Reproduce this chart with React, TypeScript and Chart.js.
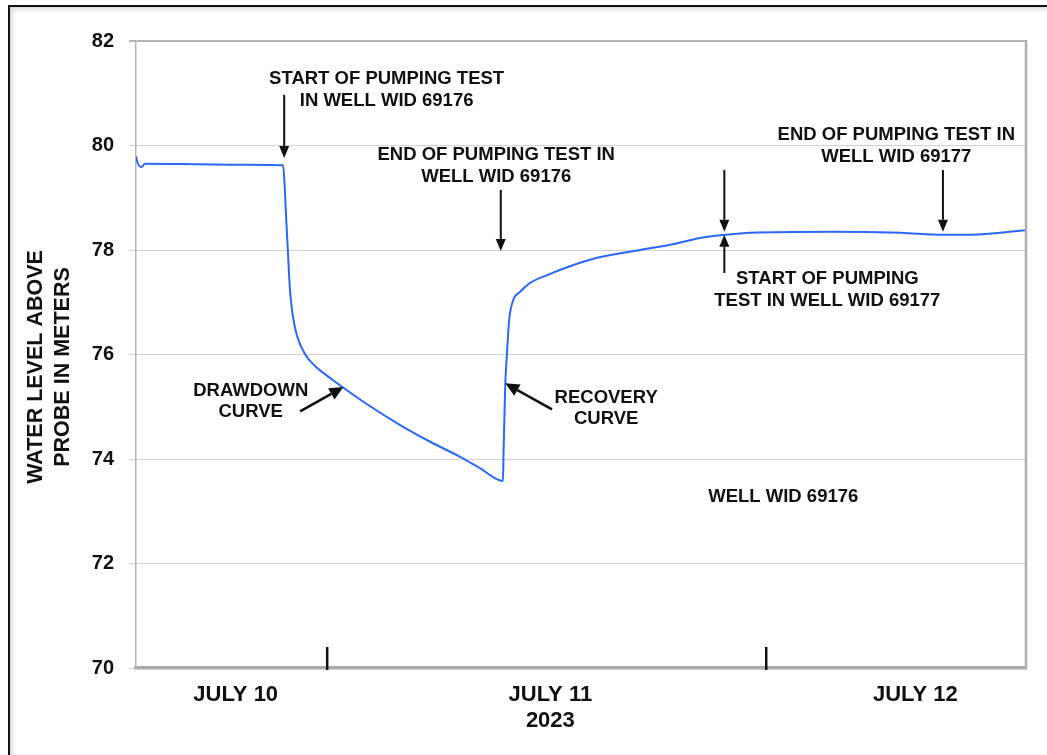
import React, { useEffect, useRef } from "react";
import { Chart, registerables } from "chart.js";

Chart.register(...registerables);

// hours since 00:00 on July 10, 2023
const timeHours = [
  13.56, 13.6, 13.84, 14.05, 17.06, 19.79, 21.59,
  21.68, 21.76, 21.85, 21.92, 22.0, 22.14, 22.36, 22.8, 23.34, 24.16, 24.98,
  26.35, 27.99, 29.63, 31.27, 32.37, 33.61,
  33.64, 33.73, 33.83, 33.95, 34.17, 34.55, 35.1, 36.03, 37.12, 38.76,
  41.11, 42.75, 44.39, 45.76, 47.13, 51.67, 55.33, 57.68, 58.99, 60.8, 62.2,
];
const waterLevel = [
  79.79, 79.71, 79.59, 79.65, 79.64, 79.63, 79.62,
  79.2, 78.6, 78.0, 77.5, 77.1, 76.7, 76.35, 76.0, 75.78, 75.55, 75.34,
  75.01, 74.65, 74.33, 74.04, 73.82, 73.58,
  74.11, 75.38, 76.03, 76.66, 77.04, 77.2, 77.37, 77.52, 77.67, 77.85,
  78.0, 78.1, 78.23, 78.29, 78.33, 78.35, 78.33, 78.29, 78.29, 78.33, 78.38,
];

const yMin = 70;
const yMax = 82;
const yStep = 2;
const xMin = 13.55;
const xMax = 62.2;

const dayBoundaryHours = [24, 48];
const dayLabelHours = [19.0, 36.2, 56.15];
const dayLabels = [["JULY 10"], ["JULY 11", "2023"], ["JULY 12"]];
const yTitleLines = ["WATER LEVEL ABOVE", "PROBE IN METERS"];

// annotation texts: centre of the block in data units
const noteX = [27.25, 33.24, 55.11, 51.34, 19.82, 39.25, 48.93];
const noteY = [81.08, 79.63, 80.01, 77.25, 75.12, 74.99, 73.29];
const noteLines = [
  ["START OF PUMPING TEST", "IN WELL WID 69176"],
  ["END OF PUMPING TEST IN", "WELL WID 69176"],
  ["END OF PUMPING TEST IN", "WELL WID 69177"],
  ["START OF PUMPING", "TEST IN WELL WID 69177"],
  ["DRAWDOWN", "CURVE"],
  ["RECOVERY", "CURVE"],
  ["WELL WID 69176"],
];

// arrows: tail -> tip in data units
const arrowFromX = [21.65, 33.49, 45.71, 45.71, 57.66, 22.52, 36.29];
const arrowFromY = [80.97, 79.15, 79.53, 77.56, 79.53, 74.91, 74.95];
const arrowToX = [21.65, 33.49, 45.71, 45.71, 57.66, 24.89, 33.73];
const arrowToY = [79.76, 77.98, 78.35, 78.29, 78.35, 75.38, 75.45];

const FONT = "'Liberation Sans', Arial, Helvetica, sans-serif";

const overlayPlugin = {
  id: "overlay",
  afterDraw(chart: any) {
    const { ctx, chartArea, scales } = chart;
    const xs = scales.x;
    const ys = scales.y;
    ctx.save();

    // right border of the plot area
    ctx.strokeStyle = "#b0b0b0";
    ctx.lineWidth = 2.5;
    ctx.beginPath();
    ctx.moveTo(chartArea.right, chartArea.top - 1);
    ctx.lineTo(chartArea.right, chartArea.bottom + 1.5);
    ctx.stroke();

    // day boundary ticks
    ctx.strokeStyle = "#111";
    ctx.lineWidth = 2.5;
    dayBoundaryHours.forEach((h) => {
      const px = xs.getPixelForValue(h);
      ctx.beginPath();
      ctx.moveTo(px, chartArea.bottom - 21);
      ctx.lineTo(px, chartArea.bottom + 2);
      ctx.stroke();
    });

    // arrows
    arrowFromX.forEach((_, i) => {
      const x1 = xs.getPixelForValue(arrowFromX[i]);
      const y1 = ys.getPixelForValue(arrowFromY[i]);
      const x2 = xs.getPixelForValue(arrowToX[i]);
      const y2 = ys.getPixelForValue(arrowToY[i]);
      const ang = Math.atan2(y2 - y1, x2 - x1);
      const diag = Math.abs(x2 - x1) > 1;
      const hl = diag ? 14 : 12;
      const hw = diag ? 6.5 : 5;
      const bx = x2 - hl * Math.cos(ang);
      const by = y2 - hl * Math.sin(ang);
      ctx.strokeStyle = "#111";
      ctx.fillStyle = "#111";
      ctx.lineWidth = diag ? 2.5 : 2;
      ctx.beginPath();
      ctx.moveTo(x1, y1);
      ctx.lineTo(bx, by);
      ctx.stroke();
      ctx.beginPath();
      ctx.moveTo(x2, y2);
      ctx.lineTo(bx + hw * Math.sin(ang), by - hw * Math.cos(ang));
      ctx.lineTo(bx - hw * Math.sin(ang), by + hw * Math.cos(ang));
      ctx.closePath();
      ctx.fill();
    });

    // annotation texts
    ctx.fillStyle = "#111";
    ctx.font = `bold 18.5px ${FONT}`;
    ctx.textAlign = "center";
    ctx.textBaseline = "middle";
    const lh = 21.7;
    noteLines.forEach((lines, i) => {
      const cx = xs.getPixelForValue(noteX[i]);
      const cy = ys.getPixelForValue(noteY[i]);
      const y0 = cy - ((lines.length - 1) * lh) / 2;
      lines.forEach((t, j) => ctx.fillText(t, cx, y0 + j * lh + 1));
    });

    // y axis title (two rotated lines)
    ctx.font = `bold 21.5px ${FONT}`;
    const midY = (chartArea.top + chartArea.bottom) / 2 + 12.5;
    const titleX = [chartArea.left - 100.5, chartArea.left - 73.5];
    yTitleLines.forEach((t, j) => {
      ctx.save();
      ctx.translate(titleX[j], midY);
      ctx.rotate(-Math.PI / 2);
      ctx.fillText(t, 0, 1);
      ctx.restore();
    });

    ctx.restore();
  },
};

export default function App() {
  const canvasRef = useRef<HTMLCanvasElement | null>(null);

  useEffect(() => {
    if (!canvasRef.current) return;
    const points = timeHours.map((h, i) => ({ x: h, y: waterLevel[i] }));
    const chart = new Chart(canvasRef.current, {
      type: "line",
      data: {
        datasets: [
          {
            data: points,
            borderColor: "#2b68f6",
            borderWidth: 2,
            pointRadius: 0,
            fill: false,
            cubicInterpolationMode: "monotone",
          },
        ],
      },
      options: {
        animation: false,
        responsive: true,
        maintainAspectRatio: false,
        layout: { padding: { left: 0, right: 21, top: 41, bottom: 0 } },
        plugins: {
          legend: { display: false },
          tooltip: { enabled: false },
          title: { display: false },
        },
        scales: {
          x: {
            type: "linear",
            min: xMin,
            max: xMax,
            afterFit: (scale: any) => {
              scale.height = 87;
            },
            afterBuildTicks: (scale: any) => {
              scale.ticks = dayLabelHours.map((v) => ({ value: v }));
            },
            grid: { display: false, drawTicks: false },
            border: { display: true, color: "#a9a9a9", width: 3.5 },
            ticks: {
              autoSkip: false,
              maxRotation: 0,
              minRotation: 0,
              padding: 14,
              color: "#111",
              font: { family: FONT, size: 22, weight: "bold", lineHeight: 1.18 },
              callback: (_v: any, i: number) => dayLabels[i],
            },
          },
          y: {
            min: yMin,
            max: yMax,
            afterFit: (scale: any) => {
              scale.width = 136;
            },
            grid: {
              color: (c: any) => (c.tick && c.tick.value === yMax ? "#b4b4b4" : "#d2d2d2"),
              lineWidth: (c: any) => (c.tick && c.tick.value === yMax ? 2 : 1),
              tickLength: 7,
            },
            border: { display: true, color: "#b5b5b5", width: 1.5 },
            ticks: {
              stepSize: yStep,
              padding: 15,
              color: "#111",
              font: { family: FONT, size: 20, weight: "bold" },
            },
          },
        },
      },
      plugins: [overlayPlugin],
    });
    return () => chart.destroy();
  }, []);

  return (
    <div
      style={{
        position: "absolute",
        left: 0,
        top: 0,
        width: 1047,
        height: 755,
        overflow: "hidden",
        background: "#fff",
      }}
    >
      <div
        style={{
          position: "absolute",
          left: 8,
          top: 5,
          width: 1060,
          height: 770,
          borderTop: "2.5px solid #111",
          borderLeft: "2.5px solid #111",
          boxShadow: "inset 4px 4px 5px -2px rgba(0,0,0,0.18)",
        }}
      />
      <div style={{ position: "absolute", left: 0, top: 0, width: 1047, height: 755 }}>
        <canvas ref={canvasRef} />
      </div>
    </div>
  );
}
